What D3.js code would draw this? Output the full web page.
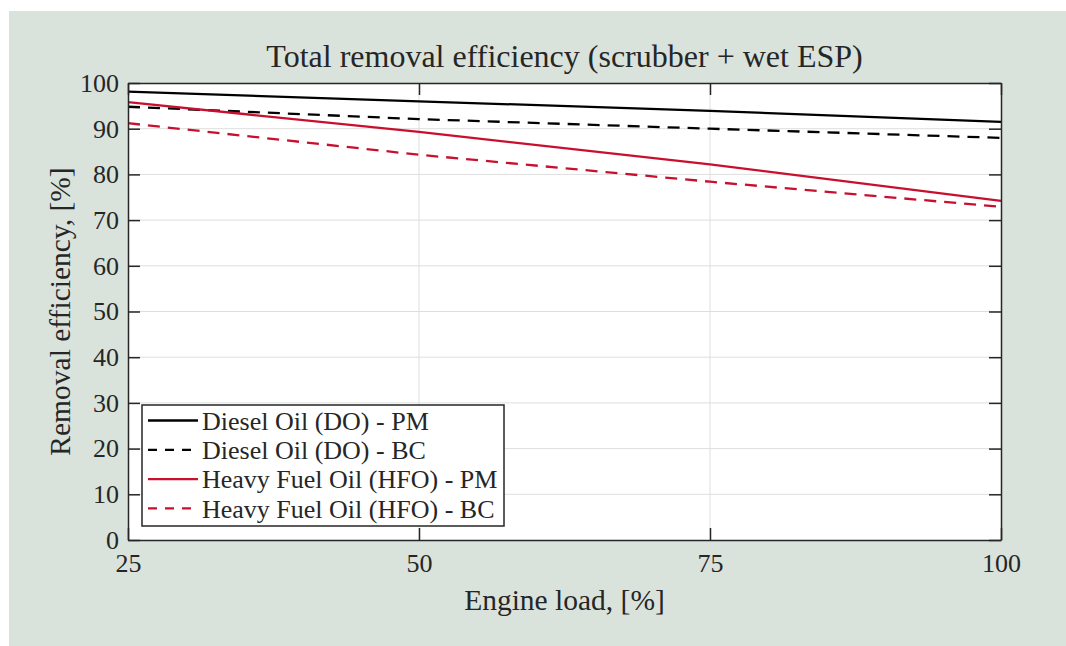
<!DOCTYPE html>
<html>
<head>
<meta charset="utf-8">
<script src="https://cdn.jsdelivr.net/npm/d3@7"></script>
<style>
  html, body { margin: 0; padding: 0; background: #fff; }
  text { font-family: "Liberation Serif", "DejaVu Serif", serif; fill: #262626; }
</style>
</head>
<body>
<svg id="chart" width="1066" height="646"></svg>
<script>
// engine load, [%]
const loads = [25, 50, 75, 100]
// removal efficiency, [%]
const doPM  = [98.1, 96.0, 93.9, 91.5]
const doBC  = [94.8, 92.1, 90.0, 88.0]
const hfoPM = [95.8, 89.3, 82.2, 74.2]
const hfoBC = [91.2, 84.3, 78.4, 72.9]

const xTicks = [25, 50, 75, 100]
const yTicks = [0, 10, 20, 30, 40, 50, 60, 70, 80, 90, 100]

const seriesNames = ["Diesel Oil (DO) - PM", "Diesel Oil (DO) - BC", "Heavy Fuel Oil (HFO) - PM", "Heavy Fuel Oil (HFO) - BC"]
const seriesVals = [doPM, doBC, hfoPM, hfoBC]
const seriesColor = ["#000000", "#000000", "#c8102e", "#c8102e"]
const seriesDash = [null, "12,8", null, "12,8"]

width = 1066
height = 646
var margin = {top: 83, right: 65, bottom: 106, left: 128}

const svg = d3.select("#chart")

// figure background
svg.append("rect").attr("x", 9).attr("y", 11)
  .attr("width", width - 9).attr("height", height - 11)
  .attr("fill", "#d9e3dc")

x = d3.scaleLinear().domain([25, 100]).range([margin.left, width - margin.right])
y = d3.scaleLinear().domain([0, 100]).range([height - margin.bottom, margin.top])

// axes area
svg.append("rect")
  .attr("x", x(25)).attr("y", y(100))
  .attr("width", x(100) - x(25)).attr("height", y(0) - y(100))
  .attr("fill", "#fff")

// grid
const grid = svg.append("g").attr("stroke", "#dedede").attr("stroke-width", 1)
grid.selectAll(".gx").data(xTicks.slice(1, -1)).join("line")
  .attr("x1", d => x(d)).attr("x2", d => x(d))
  .attr("y1", y(0)).attr("y2", y(100))
grid.selectAll(".gy").data(yTicks.slice(1, -1)).join("line")
  .attr("x1", x(25)).attr("x2", x(100))
  .attr("y1", d => y(d)).attr("y2", d => y(d))

// lines
const line = d3.line().x((d, i) => x(loads[i])).y(d => y(d))
svg.append("g").selectAll("path").data(seriesVals).join("path")
  .attr("d", d => line(d))
  .attr("fill", "none")
  .attr("stroke", (d, i) => seriesColor[i])
  .attr("stroke-width", 2.3)
  .attr("stroke-dasharray", (d, i) => seriesDash[i])

// axes (ticks inside, box on)
const tl = 12
const xAxis = g => g
  .attr("transform", `translate(0,${y(0)})`)
  .call(d3.axisBottom(x).tickValues(xTicks).tickSizeInner(-tl).tickSizeOuter(0).tickPadding(14))
const xAxisTop = g => g
  .attr("transform", `translate(0,${y(100)})`)
  .call(d3.axisTop(x).tickValues(xTicks).tickSizeInner(-tl).tickSizeOuter(0).tickFormat(""))
const yAxis = g => g
  .attr("transform", `translate(${x(25)},0)`)
  .call(d3.axisLeft(y).tickValues(yTicks).tickSizeInner(-tl).tickSizeOuter(0).tickPadding(9))
const yAxisRight = g => g
  .attr("transform", `translate(${x(100)},0)`)
  .call(d3.axisRight(y).tickValues(yTicks).tickSizeInner(-tl).tickSizeOuter(0).tickFormat(""))

svg.append("g").attr("class", "xaxis").call(xAxis)
svg.append("g").attr("class", "xaxis").call(xAxisTop)
svg.append("g").attr("class", "yaxis").call(yAxis)
svg.append("g").attr("class", "yaxis").call(yAxisRight)

svg.selectAll(".xaxis line, .yaxis line").attr("stroke", "#262626").attr("stroke-width", 1.5)
svg.selectAll(".xaxis path, .yaxis path").attr("stroke", "#262626").attr("stroke-width", 1.5)
svg.selectAll(".xaxis text, .yaxis text")
  .attr("font-family", "'Liberation Serif', serif")
  .attr("font-size", 26).attr("fill", "#262626")
svg.selectAll(".xaxis text").attr("dy", "0.71em")

// title and labels
svg.append("text").attr("x", (x(25) + x(100)) / 2).attr("y", 67)
  .attr("text-anchor", "middle").attr("font-size", 32)
  .text("Total removal efficiency (scrubber + wet ESP)")
svg.append("text").attr("x", (x(25) + x(100)) / 2).attr("y", 610)
  .attr("text-anchor", "middle").attr("font-size", 29.5)
  .text("Engine load, [%]")
svg.append("text")
  .attr("transform", `translate(70,${(y(0) + y(100)) / 2}) rotate(-90)`)
  .attr("text-anchor", "middle").attr("font-size", 29.5)
  .text("Removal efficiency, [%]")

// legend
const lg = svg.append("g").attr("transform", "translate(142,405)")
lg.append("rect").attr("width", 362).attr("height", 121)
  .attr("fill", "#fff").attr("stroke", "#262626").attr("stroke-width", 1.5)
const items = lg.selectAll(".item").data(seriesNames).join("g")
  .attr("transform", (d, i) => `translate(0,${15.5 + i * 29.3})`)
items.append("line").attr("x1", 6).attr("x2", 56)
  .attr("stroke", (d, i) => seriesColor[i]).attr("stroke-width", 2.3)
  .attr("stroke-dasharray", (d, i) => seriesDash[i] ? "9,8" : null)
items.append("text").attr("x", 60).attr("dy", "0.35em")
  .attr("font-size", 26).text(d => d)
</script>
</body>
</html>
